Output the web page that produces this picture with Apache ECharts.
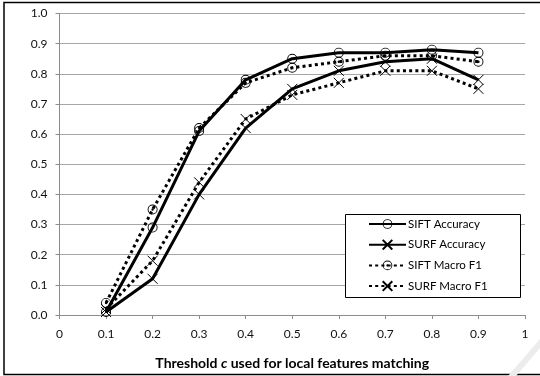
<!DOCTYPE html>
<html>
<head>
<meta charset="utf-8">
<script src="https://cdn.jsdelivr.net/npm/echarts@6/dist/echarts.min.js"></script>
<style>
html,body{margin:0;padding:0;background:#fff;}
#chart{width:540px;height:376px;}
</style>
</head>
<body>
<div id="chart"></div>
<script>
var thresholds = [0.1, 0.2, 0.3, 0.4, 0.5, 0.6, 0.7, 0.8, 0.9];
var siftAccuracy = [0.01, 0.29, 0.61, 0.78, 0.85, 0.87, 0.87, 0.88, 0.87];
var surfAccuracy = [0.01, 0.12, 0.40, 0.62, 0.75, 0.81, 0.84, 0.85, 0.78];
var siftMacroF1 = [0.04, 0.35, 0.62, 0.77, 0.82, 0.84, 0.86, 0.86, 0.84];
var surfMacroF1 = [0.02, 0.18, 0.44, 0.65, 0.73, 0.77, 0.81, 0.81, 0.75];
var seriesNames = ['SIFT Accuracy', 'SURF Accuracy', 'SIFT Macro F1', 'SURF Macro F1'];

function pairs(ys) { return thresholds.map(function (x, i) { return [x, ys[i]]; }); }

var ring = 'path://M10,0A10,10,0,1,1,10,20A10,10,0,1,1,10,0ZM10,1.8A8.2,8.2,0,1,0,10,18.2A8.2,8.2,0,1,0,10,1.8Z';
var ringDot = ring + 'M10,7.6A2.4,2.4,0,1,1,10,12.4A2.4,2.4,0,1,1,10,7.6Z';
var cross = 'path://M0,0L10,10M10,0L0,10';
var FONT = 'Lato';

function mk(name, ys, dotted, sym) {
  var isCross = sym === cross;
  return {
    name: name,
    type: 'line',
    data: pairs(ys),
    symbol: sym,
    symbolSize: 10,
    showAllSymbol: true,
    z: dotted ? 2 : 3,
    lineStyle: { color: '#000', width: 3, type: dotted ? [3, 3.2] : 'solid', cap: 'butt' },
    itemStyle: { color: '#000', borderColor: '#000', borderWidth: isCross ? 1 : 0 },
    emphasis: { disabled: true },
    animation: false
  };
}

var chart = echarts.init(document.getElementById('chart'));
chart.setOption({
  animation: false,
  backgroundColor: '#fff',
  textStyle: { fontFamily: FONT },
  grid: { left: 59.5, right: 15, top: 13.5, bottom: 61, containLabel: false, outerBoundsMode: 'none' },
  graphic: [
    { type: 'rect', shape: { x: 4, y: 2.5, width: 560, height: 372 }, style: { fill: 'none', stroke: '#000', lineWidth: 1.5 }, silent: true, z: 100 },
    { type: 'polygon', shape: { points: [[508, 376], [516, 376], [540, 348], [540, 339]] }, style: { fill: '#ececec' }, silent: true, z: 101 },
    { type: 'rect', shape: { x: 345.5, y: 214.5, width: 175, height: 83 }, style: { fill: '#fff', stroke: '#000', lineWidth: 1 }, silent: true, z: 4 }
  ],
  legend: {
    orient: 'vertical',
    left: 368,
    top: 218,
    z: 5,
    data: seriesNames,
    padding: 0,
    itemWidth: 37,
    itemHeight: 12,
    itemGap: 8.7,
    textStyle: { fontFamily: FONT, fontSize: 11.5, color: '#000', padding: [0, 0, 0, -3] },
    selectedMode: false
  },
  xAxis: {
    type: 'value',
    min: 0,
    max: 1,
    interval: 0.1,
    axisLine: { show: true, lineStyle: { color: '#8c8c8c', width: 1 } },
    axisTick: { show: true, length: 4, lineStyle: { color: '#8c8c8c' } },
    splitLine: { show: false },
    axisLabel: {
      margin: 13, fontFamily: FONT, fontSize: 12, color: '#111',
      formatter: function (v) { return (v === 0 || v === 1) ? String(v) : v.toFixed(1); }
    },
    name: '{b|Threshold }{i|c}{b| used for local features matching}',
    nameLocation: 'middle',
    nameGap: 41,
    nameTextStyle: {
      rich: {
        b: { fontFamily: FONT, fontSize: 14, fontWeight: 'bold', color: '#000' },
        i: { fontFamily: FONT, fontSize: 14, fontWeight: 'bold', fontStyle: 'italic', color: '#000' }
      }
    }
  },
  yAxis: {
    type: 'value',
    min: 0,
    max: 1,
    interval: 0.1,
    axisLine: { show: true, lineStyle: { color: '#8c8c8c', width: 1 } },
    axisTick: { show: true, length: 4, lineStyle: { color: '#8c8c8c' } },
    splitLine: { show: true, lineStyle: { color: '#a6a6a6', width: 1 } },
    axisLabel: {
      margin: 12, fontFamily: FONT, fontSize: 12, color: '#111',
      formatter: function (v) { return v.toFixed(1); }
    }
  },
  series: [
    mk(seriesNames[0], siftAccuracy, false, ring),
    mk(seriesNames[1], surfAccuracy, false, cross),
    mk(seriesNames[2], siftMacroF1, true, ringDot),
    mk(seriesNames[3], surfMacroF1, true, cross)
  ]
});
</script>
</body>
</html>
